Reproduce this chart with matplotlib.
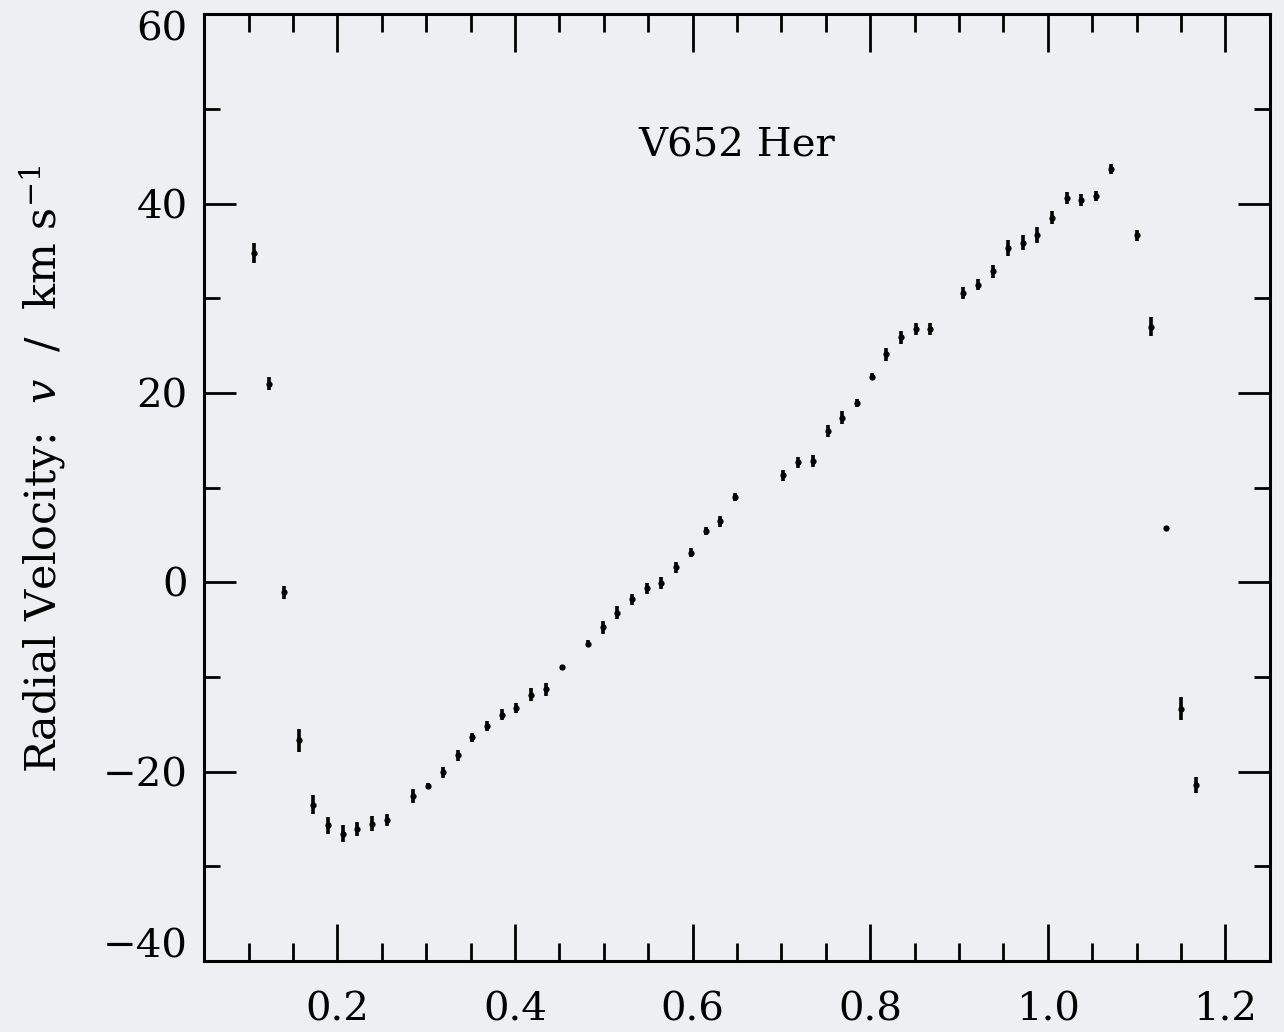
import matplotlib
matplotlib.use("Agg")
import matplotlib.pyplot as plt
from matplotlib.ticker import MultipleLocator, FuncFormatter

# ---- data ----
phase = [0.106, 0.123, 0.140, 0.1565, 0.173, 0.190, 0.206, 0.2225, 0.239, 0.2557,
         0.2857, 0.3026, 0.3187, 0.3355, 0.3517, 0.3685, 0.385, 0.4015, 0.4183, 0.4344,
         0.4528, 0.4824, 0.4989, 0.5153, 0.5318, 0.5483, 0.5647, 0.5812, 0.598, 0.6146,
         0.631, 0.6475, 0.7022, 0.7187, 0.735, 0.752, 0.7685, 0.785, 0.8015, 0.818,
         0.8344, 0.851, 0.8674, 0.905, 0.9217, 0.9385, 0.955, 0.9715, 0.988, 1.0048,
         1.0214, 1.0378, 1.0543, 1.0708, 1.1003, 1.1164, 1.1333, 1.1498, 1.1663]
rv = [34.8, 21.0, -1.06, -16.7, -23.5, -25.7, -26.6, -26.1, -25.5, -25.1,
      -22.6, -21.5, -20.1, -18.3, -16.4, -15.2, -14.0, -13.3, -11.9, -11.3,
      -9.0, -6.5, -4.76, -3.2, -1.8, -0.63, -0.07, 1.59, 3.14, 5.4,
      6.45, 9.03, 11.3, 12.67, 12.8, 15.95, 17.4, 18.94, 21.73, 24.1,
      25.9, 26.77, 26.77, 30.55, 31.46, 32.84, 35.34, 35.9, 36.69, 38.52,
      40.6, 40.39, 40.81, 43.67, 36.65, 26.98, 5.77, -13.35, -21.4]
rv_err = [1.05, 0.7, 0.7, 1.2, 1.0, 0.85, 0.9, 0.75, 0.75, 0.65,
          0.75, 0.3, 0.6, 0.6, 0.5, 0.55, 0.6, 0.55, 0.7, 0.7,
          0.3, 0.35, 0.7, 0.7, 0.6, 0.6, 0.6, 0.6, 0.45, 0.4,
          0.6, 0.4, 0.6, 0.6, 0.6, 0.65, 0.7, 0.45, 0.4, 0.7,
          0.7, 0.6, 0.6, 0.6, 0.6, 0.7, 0.85, 0.8, 0.8, 0.7,
          0.6, 0.6, 0.55, 0.5, 0.55, 1.0, 0.15, 1.25, 0.85]

star_name = "V652 Her"
ylabel = r"Radial Velocity:  $\mathit{v}$  /  km s$^{-1}$"
y_limits = (-40, 60)

bg = "#edeff2"
plt.rcParams["font.family"] = ["DejaVu Serif"]
plt.rcParams["mathtext.fontset"] = "dejavuserif"

fig = plt.figure(figsize=(12.84, 10.32), dpi=100, facecolor=bg)
ax = fig.add_axes([0.159, 0.069, 0.830, 0.917])
ax.set_facecolor(bg)

ax.errorbar(phase, rv, yerr=rv_err, fmt="o", color="black", ms=4.5, mew=0,
            elinewidth=2.6, capsize=0)

ax.set_xlim(0.05, 1.25)
ax.set_ylim(*y_limits)
ax.xaxis.set_major_locator(MultipleLocator(0.2))
ax.xaxis.set_minor_locator(MultipleLocator(0.05))
ax.yaxis.set_major_locator(MultipleLocator(20))
ax.yaxis.set_minor_locator(MultipleLocator(10))


def yfmt(v, pos):
    if abs(v - y_limits[0]) < 1e-6 or abs(v - y_limits[1]) < 1e-6:
        return ""
    return f"{int(round(v))}".replace("-", "\u2212")


ax.yaxis.set_major_formatter(FuncFormatter(yfmt))

for s in ax.spines.values():
    s.set_linewidth(2.2)
ax.tick_params(axis="x", which="major", direction="in", top=True, bottom=True,
               length=27, width=2.0, labelsize=29, pad=22)
ax.tick_params(axis="x", which="minor", direction="in", top=True, bottom=True,
               length=13, width=2.0)
ax.tick_params(axis="y", which="major", direction="in", left=True, right=True,
               length=23, width=2.0, labelsize=29, pad=12)
ax.tick_params(axis="y", which="minor", direction="in", left=True, right=True,
               length=11.5, width=2.0)

# end labels of the y axis are drawn shifted inside the frame, as in the reference
ax.annotate(f"{y_limits[1]}", xy=(0, y_limits[1]),
            xycoords=("axes fraction", "data"), xytext=(-12, -11.5),
            textcoords="offset points", ha="right", va="center", fontsize=29)
ax.annotate(f"\u2212{abs(y_limits[0])}", xy=(0, y_limits[0]),
            xycoords=("axes fraction", "data"), xytext=(-12, 10),
            textcoords="offset points", ha="right", va="center", fontsize=29)

ax.text(0.65, 46.1, star_name, fontsize=29, ha="center", va="center")
ax.set_ylabel(ylabel, fontsize=31)
ax.yaxis.set_label_coords(-0.128, 0.52)

fig.savefig("out.png", dpi=100, facecolor=bg)
